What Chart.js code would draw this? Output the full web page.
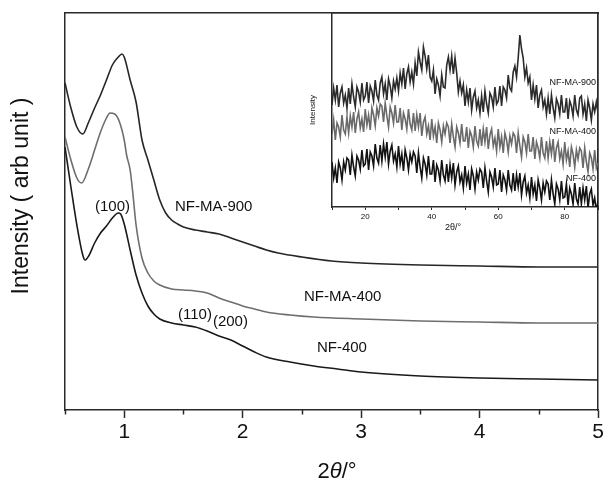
<!DOCTYPE html>
<html><head><meta charset="utf-8">
<script src="https://cdn.jsdelivr.net/npm/chart.js@4.4.1/dist/chart.umd.min.js"></script>
<style>
html,body{margin:0;padding:0;background:#fff;}
#wrap{position:relative;width:603px;height:480px;overflow:hidden;}
#main{position:absolute;left:0;top:0;width:603px;height:480px;}
#inset{position:absolute;left:300px;top:0;width:303px;height:235px;}
</style></head><body>
<div id="wrap"><canvas id="main" width="603" height="480"></canvas><canvas id="inset" width="303" height="235"></canvas></div>
<script>
// ---------- main chart data (2θ in degrees, intensity in arbitrary units) ----------
const seriesNames = ['NF-MA-900', 'NF-MA-400', 'NF-400'];
const xMA900 = [0.5,0.55,0.6,0.65,0.7,0.75,0.8,0.85,0.9,0.95,0.98,1.0,1.05,1.1,1.15,1.2,1.25,1.3,1.35,1.4,1.45,1.5,1.6,1.7,1.8,1.9,2.0,2.1,2.2,2.3,2.5,2.75,3.0,3.5,4.0,4.5,5.0];
const yMA900 = [327,302,283,276,288,302,315,330,345,353,356,353,330,308,270,250,230,210,197,190,186,183,180,178,176,172,168,164,160,157,153,149,147,145,144,143,143];
const xMA400 = [0.5,0.55,0.6,0.64,0.7,0.75,0.8,0.85,0.88,0.92,0.96,1.0,1.02,1.05,1.07,1.1,1.15,1.2,1.25,1.3,1.4,1.5,1.6,1.7,1.8,1.9,2.0,2.1,2.2,2.4,2.6,3.0,3.5,4.0,4.5,5.0];
const yMA400 = [273,250,232,227,242,260,278,292,297,296,288,270,255,240,220,185,152,137,129,125,121,120,119,117,112,108,104,101,98,95,93,91,89,88,87,87];
const xNF400 = [0.5,0.55,0.6,0.65,0.67,0.7,0.75,0.8,0.85,0.9,0.95,0.97,1.0,1.05,1.1,1.15,1.2,1.25,1.3,1.4,1.5,1.6,1.7,1.8,1.9,2.0,2.1,2.2,2.4,2.6,2.8,3.0,3.5,4.0,4.5,5.0];
const yNF400 = [263,223,185,155,150,154,167,177,184,192,197,196,186,160,135,117,104,96,91,87,85,83,79,74,70,64,58,53,48,44,41,38,34,32,31,30];
const mainTicks = [1,2,3,4,5];
const mainMinorTicks = [0.5,1.5,2.5,3.5,4.5];
const mainNotes = [
  {text:'(100)', x:0.753, y:203},
  {text:'NF-MA-900', x:1.428, y:203},
  {text:'NF-MA-400', x:2.517, y:113},
  {text:'NF-400', x:2.627, y:62},
  {text:'(110)', x:1.454, y:95},
  {text:'(200)', x:1.749, y:88}
];

// ---------- inset (wide-angle XRD), 2θ from 10° to 90° every 0.5° ----------
const insetStart = 10, insetStep = 0.5;
const insetMA900 = [102,119,107,122,100,114,120,104,112,99,
 119,103,123,110,100,120,115,105,124,107,
 111,125,104,121,116,106,127,112,107,124,
 130,113,123,107,128,121,109,126,118,129,
 116,134,123,139,118,133,140,125,135,123,
 144,131,155,145,137,160,151,138,152,130,
 126,137,113,128,122,111,132,120,119,142,
 150,137,151,133,149,134,115,126,114,122,
 101,117,105,119,97,110,116,99,107,94,
 111,95,116,103,94,114,110,100,120,103,
 106,121,101,120,117,109,132,119,116,135,
 141,130,149,172,158,149,130,139,124,130,
 107,122,108,122,99,112,117,100,107,93,
 109,93,112,99,89,108,103,93,112,95,
 95,109,88,106,101,91,112,97,92,109,
 111,93,103,86,107,99,87,103,95,105,
 94];
const insetMA400 = [73,87,67,84,80,70,92,77,73,90,
 74,91,80,95,74,88,95,79,88,75,
 98,82,92,77,99,92,81,99,91,103,
 101,85,104,91,80,100,94,84,102,85,
 85,99,77,94,88,78,98,83,77,94,
 76,92,80,94,71,85,90,73,81,67,
 88,71,80,64,84,77,65,81,73,84,
 80,64,83,70,60,80,74,64,83,66,
 66,80,59,76,71,60,81,66,61,78,
 61,78,65,80,58,72,78,61,69,56,
 78,60,70,54,74,67,55,71,63,74,
 71,54,74,61,50,70,65,54,73,56,
 56,70,48,65,59,49,70,54,49,66,
 49,65,53,68,45,59,65,48,56,43,
 65,47,56,40,60,53,40,57,48,59,
 56,39,59,45,35,54,49,38,57,39,
 44];
const insetNF400 = [45,29,39,24,45,39,27,45,37,49,
 47,32,52,40,31,51,47,38,57,41,
 43,58,37,55,51,41,63,49,44,62,
 46,63,50,65,43,56,62,46,53,40,
 61,43,53,36,57,49,37,53,45,55,
 51,34,54,40,29,49,43,32,51,33,
 33,47,25,42,37,26,47,32,26,43,
 25,42,29,44,22,35,41,25,32,19,
 41,24,33,17,38,31,18,35,27,38,
 35,19,39,26,15,35,30,20,39,22,
 23,37,15,32,27,17,37,22,17,34,
 16,32,20,34,12,25,31,14,22,9,
 30,13,22,6,27,19,7,24,15,26,
 23,7,27,13,3,23,18,7,26,9,
 10,23,2,19,13,3,24,8,3,20,
 3,19,7,21,-1,13,18,2,9,-4,
 6];
const insetTicks = [10,20,30,40,50,60,70,80,90];
const insetLabelled = [20,40,60,80];
const insetNotes = [
  {text:'NF-MA-900', x:89.4, y:124},
  {text:'NF-MA-400', x:89.4, y:75},
  {text:'NF-400', x:89.4, y:28}
];

// ---------- helpers ----------
const FONT = "'Liberation Sans', Arial, Helvetica, sans-serif";
const INK = '#2a2a2a';
const pts = (xs, ys) => xs.map((x, i) => ({x: x, y: ys[i]}));
const insetPts = ys => ys.map((y, i) => ({x: insetStart + i * insetStep, y: y}));
const zeroPad = s => { s.paddingLeft = 0; s.paddingRight = 0; s.paddingTop = 0; s.paddingBottom = 0; };
const frameAxis = (pos, isX, min, max) => ({
  type: 'linear', position: pos, min: min, max: max,
  ticks: {display: false}, grid: {display: false, drawTicks: false},
  border: {display: true, color: INK, width: 1.5},
  afterFit: s => { if (isX) s.height = 0; else s.width = 0; zeroPad(s); }
});

// ---------- main chart ----------
const mainDecor = {
  id: 'mainDecor',
  afterDraw(chart) {
    const ctx = chart.ctx, xs = chart.scales.x, ys = chart.scales.y;
    const bottom = chart.chartArea.bottom;
    ctx.save();
    ctx.strokeStyle = INK; ctx.lineWidth = 1.5;
    mainMinorTicks.forEach(v => {
      const px = Math.round(xs.getPixelForValue(v)) + 0.5;
      ctx.beginPath(); ctx.moveTo(px, bottom); ctx.lineTo(px, bottom + 4.5); ctx.stroke();
    });
    ctx.fillStyle = '#111'; ctx.textBaseline = 'middle'; ctx.textAlign = 'left';
    ctx.font = '15px ' + FONT;
    mainNotes.forEach(n => ctx.fillText(n.text, xs.getPixelForValue(n.x), ys.getPixelForValue(n.y)));
    // x-axis title 2θ/° (θ in italics)
    const parts = [['2', 'normal '], ['θ', 'italic '], ['/°', 'normal ']];
    let w = 0;
    parts.forEach(p => { ctx.font = p[1] + '22px ' + FONT; w += ctx.measureText(p[0]).width; });
    let cx = 337 - w / 2;
    parts.forEach(p => { ctx.font = p[1] + '22px ' + FONT; ctx.fillText(p[0], cx, 472); cx += ctx.measureText(p[0]).width; });
    // y-axis title
    ctx.translate(22, 196); ctx.rotate(-Math.PI / 2);
    ctx.textAlign = 'center'; ctx.font = '23px ' + FONT;
    ctx.fillText('Intensity ( arb unit )', 0, 0);
    ctx.restore();
  }
};

new Chart(document.getElementById('main'), {
  type: 'line',
  data: {datasets: [
    {label: seriesNames[0], data: pts(xMA900, yMA900), borderColor: '#262626', borderWidth: 1.6, pointRadius: 0, cubicInterpolationMode: 'monotone'},
    {label: seriesNames[1], data: pts(xMA400, yMA400), borderColor: '#6e6e6e', borderWidth: 1.6, pointRadius: 0, cubicInterpolationMode: 'monotone'},
    {label: seriesNames[2], data: pts(xNF400, yNF400), borderColor: '#1a1a1a', borderWidth: 1.6, pointRadius: 0, cubicInterpolationMode: 'monotone'}
  ]},
  options: {
    responsive: false, animation: false, devicePixelRatio: 1,
    layout: {padding: {left: 0, right: 5, top: 13, bottom: 0}},
    plugins: {legend: {display: false}, tooltip: {enabled: false}},
    scales: {
      x: {
        type: 'linear', position: 'bottom', min: 0.5, max: 5,
        afterBuildTicks: s => { s.ticks = mainTicks.map(v => ({value: v})); },
        afterFit: s => { s.height = 70; zeroPad(s); },
        ticks: {color: '#111', font: {family: FONT, size: 21}, padding: 2, maxRotation: 0, autoSkip: false, callback: v => String(v)},
        grid: {drawOnChartArea: false, drawTicks: true, tickLength: 8, tickColor: INK, tickWidth: 1.5},
        border: {display: true, color: INK, width: 1.5}
      },
      xTop: frameAxis('top', true, 0.5, 5),
      y: {
        type: 'linear', position: 'left', min: 0, max: 397,
        ticks: {display: false}, grid: {display: false, drawTicks: false},
        border: {display: true, color: INK, width: 1.5},
        afterFit: s => { s.width = 65; zeroPad(s); }
      },
      yRight: frameAxis('right', false, 0, 397)
    }
  },
  plugins: [mainDecor]
});

// ---------- inset chart ----------
const insetDecor = {
  id: 'insetDecor',
  afterDraw(chart) {
    const ctx = chart.ctx, xs = chart.scales.x, ys = chart.scales.y;
    ctx.save();
    ctx.fillStyle = '#111'; ctx.textBaseline = 'middle'; ctx.textAlign = 'right';
    ctx.font = '9px ' + FONT;
    insetNotes.forEach(n => ctx.fillText(n.text, xs.getPixelForValue(n.x), ys.getPixelForValue(n.y)));
    ctx.textAlign = 'center'; ctx.font = '9px ' + FONT;
    ctx.fillText('2θ/°', 153, 228);
    ctx.restore();
  }
};

new Chart(document.getElementById('inset'), {
  type: 'line',
  data: {datasets: [
    {label: seriesNames[0], data: insetPts(insetMA900), borderColor: '#2b2b2b', borderWidth: 1.6, pointRadius: 0, tension: 0},
    {label: seriesNames[1], data: insetPts(insetMA400), borderColor: '#6a6a6a', borderWidth: 1.6, pointRadius: 0, tension: 0},
    {label: seriesNames[2], data: insetPts(insetNF400), borderColor: '#121212', borderWidth: 1.6, pointRadius: 0, tension: 0}
  ]},
  options: {
    responsive: false, animation: false, devicePixelRatio: 1,
    layout: {padding: {left: 0, right: 5, top: 13, bottom: 0}},
    plugins: {legend: {display: false}, tooltip: {enabled: false}},
    scales: {
      x: {
        type: 'linear', position: 'bottom', min: 10, max: 90,
        afterBuildTicks: s => { s.ticks = insetTicks.map(v => ({value: v})); },
        afterFit: s => { s.height = 28; zeroPad(s); },
        ticks: {color: '#111', font: {family: FONT, size: 8}, padding: 2, maxRotation: 0, autoSkip: false,
          callback: v => insetLabelled.includes(v) ? String(v) : ''},
        grid: {drawOnChartArea: false, drawTicks: true, tickLength: 3, tickColor: INK, tickWidth: 1},
        border: {display: true, color: INK, width: 1.5}
      },
      xTop: frameAxis('top', true, 10, 90),
      y: {
        type: 'linear', position: 'left', min: 0, max: 194,
        ticks: {display: false}, grid: {display: false, drawTicks: false},
        border: {display: true, color: INK, width: 1.5},
        title: {display: true, text: 'Intensity', color: '#111', font: {family: FONT, size: 8}, padding: {top: 8, bottom: 0}},
        afterFit: s => { s.width = 32; zeroPad(s); }
      },
      yRight: frameAxis('right', false, 0, 194)
    }
  },
  plugins: [insetDecor]
});
</script>
</body></html>
